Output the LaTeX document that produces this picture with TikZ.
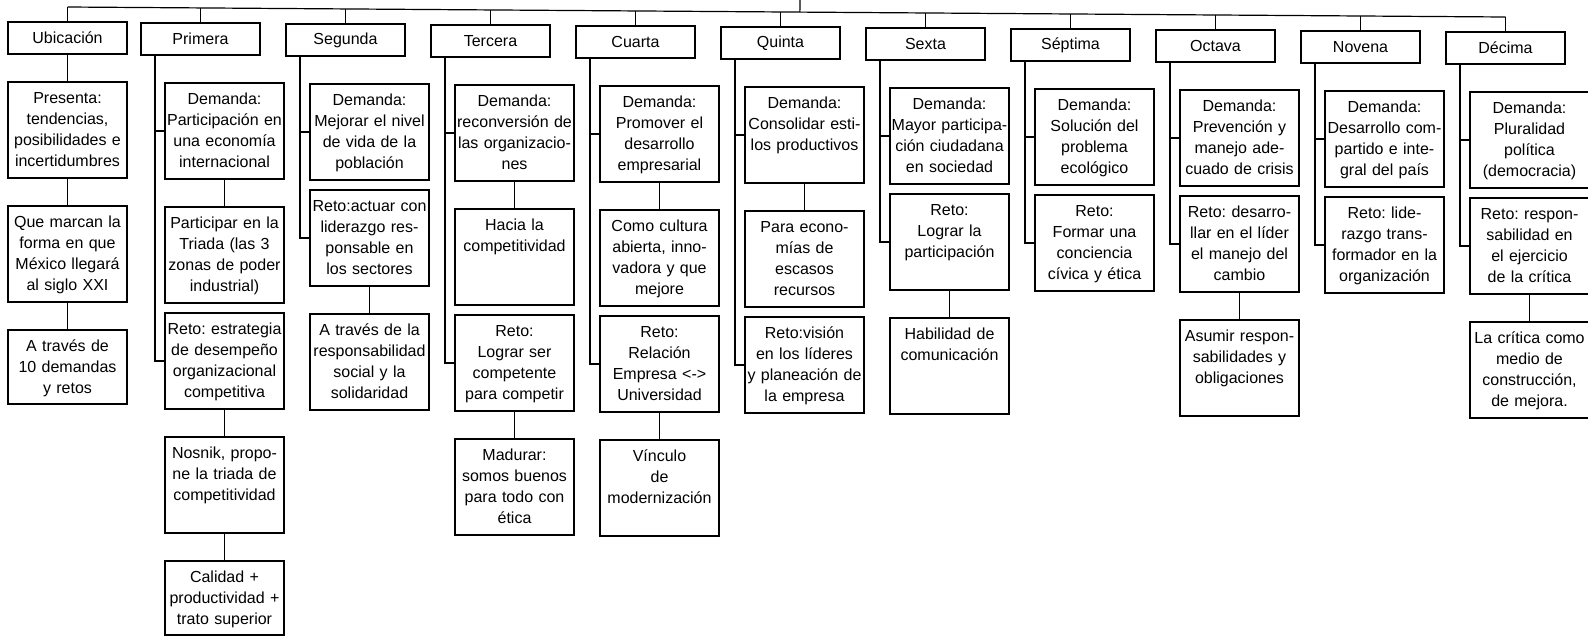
\documentclass[tikz,border=0pt]{standalone}
\usepackage{fontspec}
\setmainfont{Liberation Sans}
\usetikzlibrary{positioning, calc}
\newcommand{\letra}{\fontsize{8}{10.5}\selectfont\frenchspacing}

\begin{document}
\begin{tikzpicture}[
    x=0.5pt, y=-0.5pt,
    cabeza/.style={draw, line width=0.6pt, outer sep=0pt, minimum width=59.5pt, minimum height=16pt, inner sep=0pt, font=\letra},
    caja/.style={draw, line width=0.6pt, outer sep=0pt, text width=59.5pt, inner xsep=0pt, inner ysep=2pt, align=center, text height=8.5pt, text depth=35.5pt, font=\letra},
    cajab/.style={caja, text depth=24.5pt},
    lin/.style={line width=0.6pt}
]
    \useasboundingbox (0,0) rectangle (1588,638);

    % encabezados
    \node[cabeza, anchor=north west] (ubic) at (8,22) {Ubicación};
    \node[cabeza, right=7pt of ubic, yshift=-0.5pt] (prim) {Primera};
    \node[cabeza, right=13pt of prim, yshift=-0.5pt] (segu) {Segunda};
    \node[cabeza, right=13pt of segu, yshift=-0.5pt] (terc) {Tercera};
    \node[cabeza, right=13pt of terc, yshift=-0.5pt] (cuar) {Cuarta};
    \node[cabeza, right=13pt of cuar, yshift=-0.5pt] (quin) {Quinta};
    \node[cabeza, right=13pt of quin, yshift=-0.5pt] (sext) {Sexta};
    \node[cabeza, right=13pt of sext, yshift=-0.5pt] (sept) {Séptima};
    \node[cabeza, right=13pt of sept, yshift=-0.5pt] (octa) {Octava};
    \node[cabeza, right=13pt of octa, yshift=-0.5pt] (nove) {Novena};
    \node[cabeza, right=13pt of nove, yshift=-0.5pt] (deci) {Décima};

    % ubicacion
    \node[caja, below=14pt of ubic] (u1) {Presenta:\\tendencias,\\posibilidades e\\incertidumbres};
    \node[caja, below=14pt of u1] (u2) {Que marcan la\\forma en que\\México llegará\\al siglo XXI};
    \node[cajab, below=14pt of u2] (u3) {A través de\\10 demandas\\y retos};

    % primera
    \node[caja, below=14pt of prim, xshift=12pt] (p1) {Demanda:\\Participación en\\una economía\\internacional};
    \node[caja, below=14pt of p1] (p2) {Participar en la\\Triada (las 3\\zonas de poder\\industrial)};
    \node[caja, below=5pt of p2] (p3) {Reto: estrategia\\de desempeño\\organizacional\\competitiva};
    \node[caja, below=14pt of p3] (p4) {Nosnik, propo-\\ne la triada de\\competitividad};
    \node[cajab, below=14pt of p4] (p5) {Calidad +\\productividad +\\trato superior};

    % segunda
    \node[caja, below=14pt of segu, xshift=12pt] (s1) {Demanda:\\Mejorar el nivel\\de vida de la\\población};
    \node[caja, below=5pt of s1] (s2) {Reto:actuar con\\liderazgo res-\\ponsable en\\los sectores};
    \node[caja, below=14pt of s2] (s3) {A través de la\\responsabilidad\\social y la\\solidaridad};

    % tercera
    \node[caja, below=14pt of terc, xshift=12pt] (t1) {Demanda:\\reconversión de\\las organizacio-\\nes};
    \node[caja, below=14pt of t1] (t2) {Hacia la\\competitividad};
    \node[caja, below=5pt of t2] (t3) {Reto:\\Lograr ser\\competente\\para competir};
    \node[caja, below=14pt of t3] (t4) {Madurar:\\somos buenos\\para todo con\\ética};

    % cuarta
    \node[caja, below=14pt of cuar, xshift=12pt] (c1) {Demanda:\\Promover el\\desarrollo\\empresarial};
    \node[caja, below=14pt of c1] (c2) {Como cultura\\abierta, inno-\\vadora y que\\mejore};
    \node[caja, below=5pt of c2] (c3) {Reto:\\Relación\\Empresa <->\\Universidad};
    \node[caja, below=14pt of c3] (c4) {Vínculo\\de\\modernización};

    % quinta
    \node[caja, below=14pt of quin, xshift=12pt] (q1) {Demanda:\\Consolidar esti-\\los productivos};
    \node[caja, below=14pt of q1] (q2) {Para econo-\\mías de\\escasos\\recursos};
    \node[caja, below=5pt of q2] (q3) {Reto:visión\\en los líderes\\y planeación de\\la empresa};

    % sexta
    \node[caja, below=14pt of sext, xshift=12pt] (x1) {Demanda:\\Mayor participa-\\ción ciudadana\\en sociedad};
    \node[caja, below=5pt of x1] (x2) {Reto:\\Lograr la\\participación};
    \node[caja, below=14pt of x2] (x3) {Habilidad de\\comunicación};

    % septima
    \node[caja, below=14pt of sept, xshift=12pt] (e1) {Demanda:\\Solución del\\problema\\ecológico};
    \node[caja, below=5pt of e1] (e2) {Reto:\\Formar una\\conciencia\\cívica y ética};

    % octava
    \node[caja, below=14pt of octa, xshift=12pt] (o1) {Demanda:\\Prevención y\\manejo ade-\\cuado de crisis};
    \node[caja, below=5pt of o1] (o2) {Reto: desarro-\\llar en el líder\\el manejo del\\cambio};
    \node[caja, below=14pt of o2] (o3) {Asumir respon-\\sabilidades y\\obligaciones};

    % novena
    \node[caja, below=14pt of nove, xshift=12pt] (n1) {Demanda:\\Desarrollo com-\\partido e inte-\\gral del país};
    \node[caja, below=5pt of n1] (n2) {Reto: lide-\\razgo trans-\\formador en la\\organización};

    % decima
    \node[caja, below=14pt of deci, xshift=12pt] (d1) {Demanda:\\Pluralidad\\política\\(democracia)};
    \node[caja, below=5pt of d1] (d2) {Reto: respon-\\sabilidad en\\el ejercicio\\de la crítica};
    \node[caja, below=14pt of d2] (d3) {La crítica como\\medio de\\construcción,\\de mejora.};

    % barra superior
    \coordinate (bi) at ([yshift=7.5pt]ubic.north);
    \coordinate (bd) at ([yshift=7.5pt]deci.north);
    \coordinate (raiz) at (800,0);
    \draw[lin] (bi) -- (bd);
    \draw[lin] (raiz) -- ($(bi)!(raiz)!(bd)$);
    \foreach \h in {ubic, prim, segu, terc, cuar, quin, sext, sept, octa, nove, deci}
        \draw[lin] (\h.north) -- ([yshift=7.5pt]\h.north);

    % troncos
    \foreach \c/\a/\b in {prim/p1/p3, segu/s1/s2, terc/t1/t3, cuar/c1/c3, quin/q1/q3, sext/x1/x2, sept/e1/e2, octa/o1/o2, nove/n1/n2, deci/d1/d2}{
        \draw[lin] ([xshift=7pt]\c.south west) |- (\a.west);
        \draw[lin] ([xshift=7pt]\c.south west) |- (\b.west);
    }

    % enlaces
    \foreach \a/\b in {ubic/u1, u1/u2, u2/u3, p1/p2, p3/p4, p4/p5, s2/s3, t1/t2, t3/t4, c1/c2, c3/c4, q1/q2, x2/x3, o2/o3, d2/d3}
        \draw[lin] (\a) -- (\b);
\end{tikzpicture}
\end{document}
